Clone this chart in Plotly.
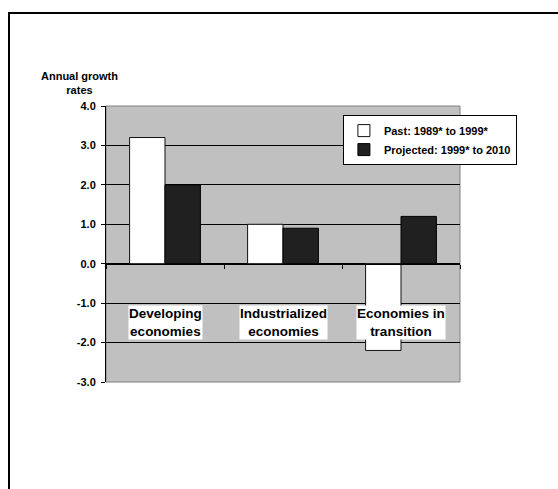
import plotly.graph_objects as go

categories = ["Developing<br>economies", "Industrialized<br>economies", "Economies in<br>transition"]
series_names = ["Past: 1989* to 1999*", "Projected: 1999* to 2010"]
past_values = [3.2, 1.0, -2.2]
projected_values = [2.0, 0.9, 1.2]
y_tick_values = [-3, -2, -1, 0, 1, 2, 3, 4]
y_tick_labels = ["-3.0", "-2.0", "-1.0", "0.0", "1.0", "2.0", "3.0", "4.0"]
y_axis_title = "Annual growth<br>rates"
label_y = -1.5

FONT = "Liberation Sans, Arial, sans-serif"

fig = go.Figure()
fig.add_trace(go.Bar(
    x=categories, y=past_values, name=series_names[0],
    marker=dict(color="white", line=dict(color="#111111", width=1)),
))
fig.add_trace(go.Bar(
    x=categories, y=projected_values, name=series_names[1],
    marker=dict(color="#202020", line=dict(color="#000000", width=1)),
))

for c in categories:
    fig.add_annotation(
        x=c, y=label_y, xref="x", yref="y", text=c, showarrow=False,
        font=dict(family=FONT, size=13.5, color="black", weight="bold"),
        bgcolor="white", borderpad=0, yanchor="middle",
    )

fig.add_annotation(
    x=-0.076, y=1.083, xref="paper", yref="paper", text=y_axis_title,
    showarrow=False, xanchor="center", yanchor="middle",
    font=dict(family=FONT, size=11, color="black", weight="bold"),
)

# plot-area border (grey)
fig.add_shape(type="rect", xref="paper", yref="paper", x0=0, x1=1, y0=0, y1=1,
              line=dict(color="#808080", width=1), layer="below")
# outer frame (top and left edges visible)
fig.add_shape(type="path", xref="paper", yref="paper",
              path="M -0.274,-0.4 L -0.274,1.337 L 1.4,1.337",
              line=dict(color="black", width=2))

fig.update_layout(
    width=558, height=489,
    margin=dict(l=106, r=98, t=106, b=107),
    paper_bgcolor="white", plot_bgcolor="#c0c0c0",
    barmode="group", bargap=0.4, bargroupgap=0,
    font=dict(family=FONT, size=11, color="black", weight="bold"),
    showlegend=True,
    legend=dict(
        x=0.915, y=0.967, xanchor="center", yanchor="top",
        bgcolor="white", bordercolor="black", borderwidth=1,
        font=dict(family=FONT, size=11, color="black", weight="bold"),
        itemwidth=30, tracegroupgap=0,
    ),
    xaxis=dict(
        type="category", showticklabels=False, ticks="outside", ticklen=4,
        tickson="boundaries", tickcolor="black", showline=True, linecolor="black",
        linewidth=1, showgrid=False, anchor="free", position=3/7, zeroline=False,
    ),
    yaxis=dict(
        range=[-3, 4], tickvals=y_tick_values, ticktext=y_tick_labels,
        ticks="outside", ticklen=4, tickcolor="black", showline=True,
        linecolor="black", linewidth=1, showgrid=True, gridcolor="black",
        gridwidth=1, zeroline=True, zerolinecolor="black", zerolinewidth=1,
        ticklabelstandoff=3,
        tickfont=dict(family=FONT, size=11, color="black", weight="bold"),
    ),
)

fig.write_html("out.html")
